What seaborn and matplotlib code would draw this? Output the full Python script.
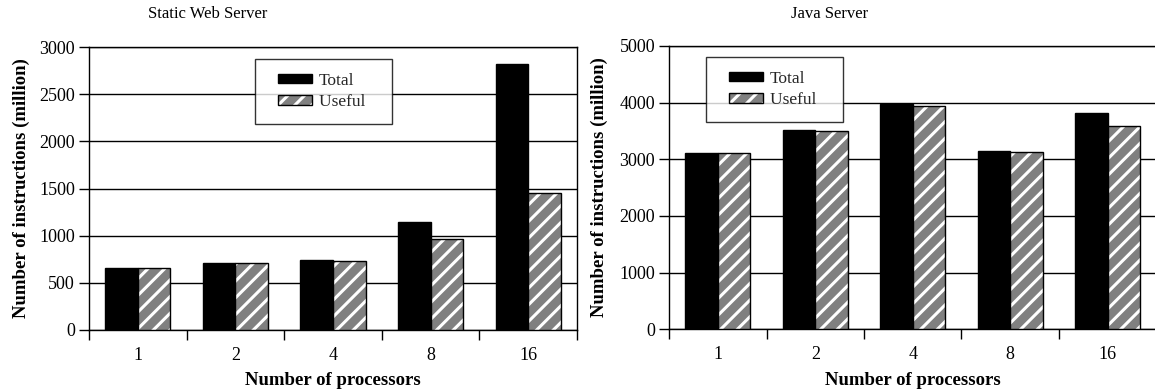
import matplotlib
matplotlib.use("Agg")
import matplotlib.pyplot as plt
import matplotlib.colors as mcolors
from matplotlib.patches import Patch, Rectangle
from matplotlib.legend_handler import HandlerPatch
from matplotlib.ticker import FixedLocator, MultipleLocator
import seaborn as sns
import pandas as pd

# ---- data ----
processors = ["1", "2", "4", "8", "16"]
series_names = ["Total", "Useful"]
static_total = [662, 706, 742, 1145, 2825]
static_useful = [660, 705, 735, 962, 1456]
java_total = [3118, 3515, 3975, 3147, 3810]
java_useful = [3110, 3505, 3945, 3133, 3588]
titles = ["Static Web Server", "Java Server"]
xlabel = "Number of processors"
ylabel = "Number of instructions (million)"

sns.set_theme(style="white")
plt.rcParams["font.family"] = ["Liberation Serif", "DejaVu Serif"]
plt.rcParams["hatch.linewidth"] = 2.2
plt.rcParams["hatch.color"] = "white"

GRAY = "#808080"
WHITE = mcolors.to_rgba("white")

fig = plt.figure(figsize=(11.55, 3.91), dpi=100)
W, H = 1155, 391
ax1 = fig.add_axes([89 / W, 1 - 330 / H, 488 / W, 283 / H])
ax2 = fig.add_axes([669 / W, 1 - 329.3 / H, 487.5 / W, 283.5 / H])


def make_df(total, useful):
    rows = []
    for p, t, u in zip(processors, total, useful):
        rows.append({"proc": p, "type": series_names[0], "value": t})
        rows.append({"proc": p, "type": series_names[1], "value": u})
    return pd.DataFrame(rows)


def offset_patch(legend, orig_handle, xdescent, ydescent, width, height, fontsize):
    # handle rectangle sits on the right part of the handle box (left padding inside frame)
    lead = width * 9.0 / 43.0
    p = Rectangle((-xdescent + lead, -ydescent), width - lead, height)
    return p


class PatchHandler(HandlerPatch):
    def create_artists(self, legend, orig_handle, xdescent, ydescent, width, height,
                       fontsize, trans):
        arts = super().create_artists(legend, orig_handle, xdescent, ydescent, width,
                                      height, fontsize, trans)
        for a in arts:
            a._hatch_color = orig_handle._hatch_color
        return arts


def draw(ax, total, useful, ymax, ystep, legend_anchor):
    df = make_df(total, useful)
    sns.barplot(data=df, x="proc", y="value", hue="type", order=processors,
                hue_order=series_names, palette=["black", GRAY], saturation=1,
                width=0.67, ax=ax, legend=False, zorder=3)
    for bar in ax.containers[0]:
        bar.set_facecolor("black")
        bar.set_edgecolor("black")
        bar.set_linewidth(1.0)
    for bar in ax.containers[1]:
        bar.set_facecolor(GRAY)
        bar.set_edgecolor("black")
        bar.set_linewidth(1.0)
        bar.set_hatch("//")
        bar._hatch_color = WHITE
    ax.set_ylim(0, ymax)
    ax.set_xlim(-0.5, len(processors) - 0.5)
    ax.yaxis.set_major_locator(MultipleLocator(ystep))
    ax.grid(axis="y", color="black", linewidth=1.0, zorder=0)
    ax.grid(axis="x", visible=False)
    ax.set_axisbelow(True)
    for s in ax.spines.values():
        s.set_visible(True)
        s.set_color("black")
        s.set_linewidth(1.0)
    ax.xaxis.set_minor_locator(FixedLocator([i - 0.5 for i in range(len(processors) + 1)]))
    ax.tick_params(axis="x", which="major", length=0, pad=12, labelsize=13, colors="black")
    ax.tick_params(axis="x", which="minor", length=7, width=1.0, direction="out",
                   bottom=True, color="black")
    ax.tick_params(axis="y", which="major", length=7, width=1.0, direction="out",
                   left=True, pad=3, labelsize=13, colors="black")
    ax.set_xlabel(xlabel, fontsize=13.5, fontweight="bold", color="black")
    ax.set_ylabel(ylabel, fontsize=13.5, fontweight="bold", color="black")
    hatch_handle = Patch(facecolor=GRAY, edgecolor="black", hatch="//", linewidth=1.0)
    hatch_handle._hatch_color = WHITE
    solid_handle = Patch(facecolor="black", edgecolor="black", linewidth=1.0)
    handler = PatchHandler(patch_func=offset_patch)
    labels = [series_names[0], series_names[1] + "   "]
    leg = ax.legend([solid_handle, hatch_handle], labels, loc="upper left",
                    bbox_to_anchor=legend_anchor,
                    handler_map={Patch: handler},
                    fontsize=12.5, frameon=True, fancybox=False, shadow=False,
                    handlelength=2.47, handleheight=0.45, handletextpad=0.4,
                    labelspacing=0.3, borderpad=0.8, borderaxespad=0)
    leg.get_frame().set_edgecolor("black")
    leg.get_frame().set_linewidth(1.0)
    leg.set_zorder(5)


draw(ax1, static_total, static_useful, 3000, 500, ((255 - 89) / 488, (330 - 59) / 283))
draw(ax2, java_total, java_useful, 5000, 1000, ((706 - 669) / 487.5, (329.3 - 57) / 283.5))

ax1.yaxis.set_label_coords((30 - 89) / 488, 0.5)
ax2.yaxis.set_label_coords((608 - 669) / 487.5, 0.5)
ax1.xaxis.set_label_coords(0.5, (330 - 372) / 283)
ax2.xaxis.set_label_coords(0.5, (329.3 - 372) / 283.5)

fig.text(207.5 / W, 1 - 14 / H, titles[0], ha="center", va="center", fontsize=12, color="black")
fig.text(830 / W, 1 - 14 / H, titles[1], ha="center", va="center", fontsize=12, color="black")

fig.savefig("out.png", dpi=100, facecolor="white")
